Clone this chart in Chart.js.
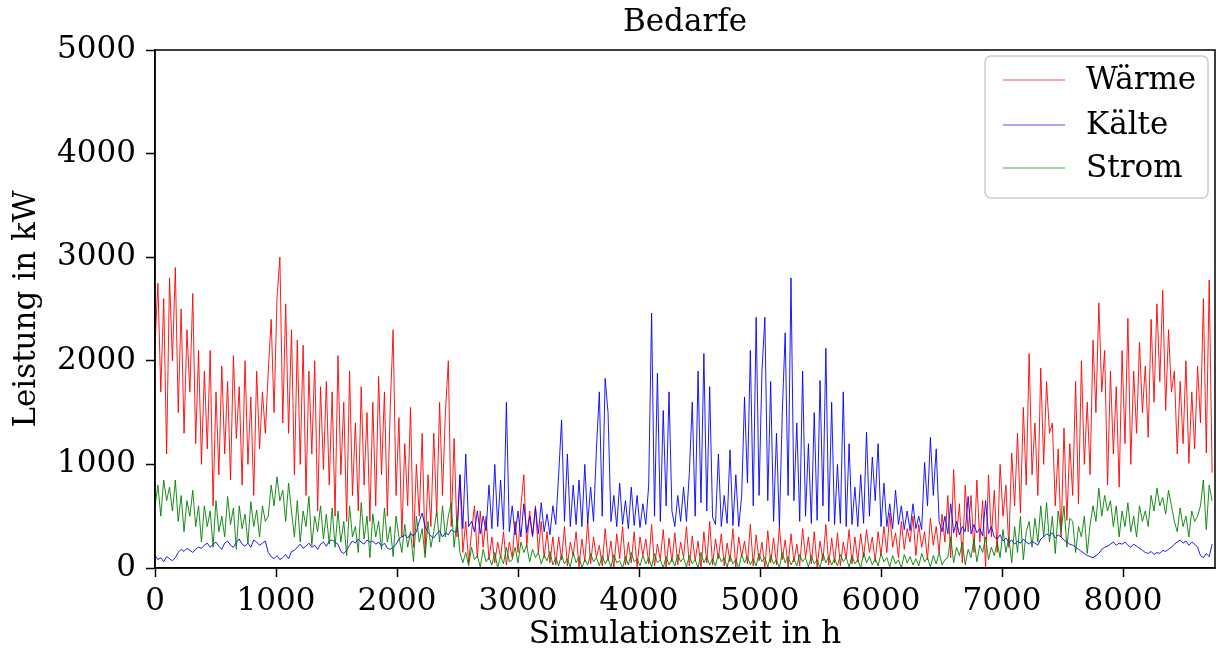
<!DOCTYPE html>
<html>
<head>
<meta charset="utf-8">
<title>Bedarfe</title>
<script src="https://cdn.jsdelivr.net/npm/chart.js@4"></script>
<style>
  html, body { margin: 0; padding: 0; background: #fff; }
  #wrap { width: 1217px; height: 654px; position: relative; }
</style>
</head>
<body>
<div id="wrap"><canvas id="chart"></canvas></div>
<script>
'use strict';

/* ── DATA (one value per day) ── */
const STEP_H = 24;
const X_TICKS = [0, 1000, 2000, 3000, 4000, 5000, 6000, 7000, 8000];
const Y_TICKS = [0, 1000, 2000, 3000, 4000, 5000];
const SERIES_NAMES = ['Wärme', 'Kälte', 'Strom'];
const CHART_TITLE = 'Bedarfe';

const waerme = [
  2150, 2750, 1700, 2600, 1100, 2800, 2000, 2900,
  1500, 2500, 1300, 2300, 1700, 2650, 1200, 2100,
  1000, 1900, 1150, 2100, 600, 1700, 900, 1950, 1100, 1800, 850, 2050, 1250, 1750, 800, 2000, 1000, 1650, 700, 1900, 1150, 1700, 1300,
  1900, 2400, 1500, 2600, 3000, 1400, 2550, 1300, 2300,
  900, 2200, 1000, 2150, 700, 1900, 1100, 2000, 550, 1750, 950, 1800, 800, 1700,
  500, 2050, 900, 1600, 450, 1900, 700, 1400, 550, 1750, 800, 1500, 450,
  1600, 600, 1850, 900, 1700, 500, 1550, 2300, 700,
  1450, 300, 1200, 600, 1550, 200, 1000, 500, 1300, 150, 900, 400,
  1300, 500, 1600, 700, 1500, 2000, 400, 1250, 300, 900,
  150, 450, 50, 350, 600, 100, 550, 200, 500, 80, 300, 50, 250, 100, 350, 30, 250,
  100, 450, 150, 600, 900, 200, 550, 300, 600, 150, 450, 100, 350, 50, 300,
  30, 300, 80, 400, 20, 250, 120, 350, 10, 280,
  60, 450, 40, 300, 100, 220, 20, 380, 70, 260,
  0, 330, 90, 400, 30, 250, 50, 350, 10, 300,
  120, 280, 40, 420, 20, 230, 80, 370, 10, 290,
  60, 340, 30, 250, 100, 400, 20, 310, 70, 260,
  0, 350, 50, 450, 30, 280, 90, 330, 20, 240,
  60, 380, 10, 300, 110, 260, 40, 420, 20, 320,
  70, 250, 0, 360, 50, 290, 30, 400, 80, 270,
  10, 330, 60, 230, 20, 380, 100, 300, 40, 350,
  10, 260, 70, 420, 30, 290, 50, 340, 20, 250,
  90, 370, 40, 300, 60, 330,
  100, 370, 150, 300, 60, 350, 120,
  400, 150, 530, 200, 340, 100, 450, 180, 380, 250, 500, 120, 420, 200, 350, 80, 480, 220, 400, 150, 520, 250,
  700, 100, 950, 300, 620, 50, 800, 350, 700, 150, 850, 250, 650, 0, 900, 300, 750,
  150, 1000, 500, 800, 200, 1110,
  600, 1300, 530, 1550, 800, 2070, 900, 1400, 700,
  1930, 1000, 1800, 1300, 1400, 600, 1150, 300, 1350, 460, 1200,
  700, 1800, 620, 2000, 1000, 1600, 900,
  2200, 1500, 2560, 1700, 2100,
  800, 1900, 1100, 1750, 780, 2100, 1200, 2410, 1000,
  1900, 1300, 2180, 1500, 1950, 1260,
  2400, 1600, 2550, 1800, 2680, 1520, 2300, 1700,
  1900, 1100, 1800, 1200, 2000, 1010, 1700, 1150, 1950,
  1400, 2600, 1110, 2780, 920
];

const kaelte = [
  120, 80, 100, 60, 110, 90, 70, 100,
  150, 180, 160, 190, 170, 150, 180, 200,
  190, 220, 240, 200, 230, 250, 210, 180, 240, 260, 220, 200, 250, 280, 230, 210, 240, 200, 270, 250, 220, 240, 260,
  150, 110, 90, 120, 80, 100, 130, 90, 160,
  170, 200, 230, 190, 210, 240, 200, 220, 180, 230, 250, 210, 260, 270,
  250, 230, 160, 140, 170, 220, 260, 240, 280, 250, 230, 270, 250,
  260, 230, 250, 210, 240, 190, 180, 200, 230,
  280, 300, 320, 290, 330, 310, 350, 450, 530, 400, 340, 310, 290, 330, 360, 300, 340, 320, 370, 350,
  350, 900, 380, 1100, 400,
  450, 350, 550, 330, 500, 360,
  800, 380, 1000, 400, 850, 370, 1600,
  350, 600, 320, 550, 300, 620, 340, 500, 310, 580, 330, 630, 350, 520, 320, 600,
  420, 900, 1430, 450, 1100, 400, 800,
  420, 850, 400, 1000, 430, 780, 450, 1150, 1700, 500, 1830, 1500, 450,
  700, 400, 820, 420, 650, 380, 780, 410, 700, 390, 620, 420, 800,
  2460,
  500, 1880, 450, 1520, 600, 1700,
  550, 400, 700, 450,
  780, 450, 920,
  1600, 500, 1900, 630, 2070, 550, 1750, 490,
  420, 1100, 400, 700, 430, 1140, 410, 900, 400, 690,
  1650, 820, 2100, 600, 2420, 700, 1900, 2420, 650, 1800,
  450, 1300, 400, 1500,
  2270, 700, 2800, 650,
  1400, 450, 1900, 500, 1200, 430, 1500, 460,
  1810, 600, 2120, 450, 1600, 420,
  1000, 430, 1700, 400, 1200, 420, 780, 400, 900, 430,
  1310, 500, 1070, 650, 1200, 400,
  820, 400, 620, 380, 750, 420, 600,
  370, 550, 360, 620, 380, 500, 370,
  1020, 600, 1260, 700, 1150, 450,
  350, 500, 330, 620, 340, 450, 320, 400, 350, 690, 330, 420, 340, 380, 310, 650, 330, 400,
  300, 280, 320, 260, 290, 250, 270, 230, 260, 240, 280, 250, 230, 260, 240, 220,
  280, 300, 330, 310, 340, 290, 320, 300, 270, 250, 230,
  220, 200, 180, 160, 140, 120, 110, 100, 120, 140, 180, 200,
  210, 230, 250, 220, 240, 230, 250, 220, 200, 230, 210, 190,
  170, 150, 140, 160, 130, 150, 140, 170, 160, 180, 200,
  230, 250, 270, 240, 260, 220, 250, 230, 200,
  120, 100, 140, 110, 230
];

const strom = [
  600, 800, 500, 850, 650, 780, 550, 850,
  450, 700, 350, 650, 500, 750, 400, 600,
  250, 600, 400, 550, 200, 650, 350, 500, 300, 690, 420, 580, 180, 600, 380, 520, 240, 640, 400, 560, 300, 600, 450,
  500, 800, 600, 880, 650, 750, 450, 820, 550,
  300, 650, 250, 550, 400, 690, 220, 500, 350, 600, 280, 520, 230, 580,
  200, 550, 250, 450, 120, 600, 300, 400, 150, 630, 280, 500, 100, 520, 300, 450, 180, 580, 250, 400, 110, 500,
  300, 150, 420, 200, 350, 60, 500, 250, 380, 100, 450, 200,
  350, 550, 250, 600, 300, 500, 630, 200, 480, 150,
  50, 150, 20, 200, 80, 120, 10, 180, 60, 100, 30, 150, 0, 120, 40, 200, 60,
  80, 200, 50, 250, 150, 220, 60, 180, 100, 150, 40, 120, 70, 160, 30,
  100, 20, 130, 40, 90, 10, 150, 50, 110, 0,
  80, 30, 140, 60, 100, 20, 120, 40, 90, 10,
  130, 50, 70, 0, 110, 30, 150, 60, 90, 20,
  120, 40, 100, 10, 140, 50, 80, 0, 110, 30,
  90, 20, 130, 60, 100, 10, 120, 40, 80, 0,
  150, 50, 110, 30, 90, 20, 140, 60, 100, 10,
  120, 40, 80, 0, 130, 50, 110, 30, 90, 20,
  140, 60, 100, 10, 120, 40, 80, 0, 150, 50,
  110, 30, 90, 20, 130, 60, 100, 10, 120, 40,
  80, 0, 140, 50, 110, 30, 90, 20, 130, 60,
  100, 10, 120, 40, 80, 0, 150, 50, 110, 30,
  90, 20, 140, 60, 100, 10, 120, 40, 80, 0,
  130, 50, 110, 30, 90, 20, 140, 60, 100, 10,
  120, 40, 150, 30, 80,
  100, 300, 50, 200, 120, 250, 30, 180, 100, 280, 60, 220, 150, 300, 80, 200, 120,
  250, 100, 370, 150, 300, 50,
  400, 150, 500, 80, 350, 450, 200, 480, 250,
  600, 300, 630, 250, 500, 140, 550, 350, 600, 200, 480,
  450, 150, 400, 300, 500, 140, 420,
  600, 450, 770, 500, 700, 550, 650, 400, 600,
  300, 550, 400, 630, 350, 500, 300, 600, 450, 550, 400,
  700, 550, 770, 600, 680, 520, 750, 600,
  450, 350, 580, 400, 500, 300, 550, 450, 500,
  600, 850, 370, 800, 650
];

/* ── STYLE ── */
const FONT = "'DejaVu Serif', 'Liberation Serif', serif";
const FONT_SIZE = 31;
const COLORS = ['#ff0000', '#0000ff', '#008000'];
const LINE_W = 0.9;

function toPoints(values) {
  return values.map((v, i) => ({ x: i * STEP_H, y: v }));
}

/* frame round the plot (four spines) and title centred over the plot area */
const framePlugin = {
  id: 'frame',
  afterDraw(chart) {
    const { ctx, chartArea: a } = chart;
    ctx.save();
    ctx.strokeStyle = '#000';
    ctx.lineWidth = 1.5;
    ctx.strokeRect(a.left, a.top, a.right - a.left, a.bottom - a.top);

    ctx.font = FONT_SIZE + 'px ' + FONT;
    ctx.fillStyle = '#000';
    ctx.textAlign = 'center';
    ctx.textBaseline = 'middle';
    ctx.fillText(CHART_TITLE, (a.left + a.right) / 2, 23);
    ctx.restore();
  }
};

/* boxed legend in the upper right corner */
const legendPlugin = {
  id: 'boxLegend',
  afterDraw(chart) {
    const ctx = chart.ctx;
    const x0 = 985, y0 = 56, w = 223, h = 142, r = 6;
    ctx.save();
    ctx.beginPath();
    ctx.roundRect(x0, y0, w, h, r);
    ctx.fillStyle = 'rgba(255,255,255,0.8)';
    ctx.fill();
    ctx.strokeStyle = '#cccccc';
    ctx.lineWidth = 1.5;
    ctx.stroke();

    const rows = [80, 125, 168];
    ctx.font = FONT_SIZE + 'px ' + FONT;
    ctx.textBaseline = 'middle';
    chart.data.datasets.forEach((ds, i) => {
      ctx.beginPath();
      ctx.moveTo(1003, rows[i]);
      ctx.lineTo(1065, rows[i]);
      ctx.strokeStyle = ds.borderColor;
      ctx.lineWidth = 0.7;
      ctx.stroke();
      ctx.fillStyle = '#000';
      ctx.fillText(ds.label, 1086, rows[i] + 1);
    });
    ctx.restore();
  }
};

const axisFont = { family: FONT, size: FONT_SIZE };
const plain = v => String(v);

new Chart(document.getElementById('chart'), {
  type: 'line',
  data: {
    datasets: [waerme, kaelte, strom].map((vals, i) => ({
      label: SERIES_NAMES[i],
      data: toPoints(vals),
      borderColor: COLORS[i],
      borderWidth: LINE_W,
      pointRadius: 0,
      tension: 0,
      fill: false,
      order: 3 - i
    }))
  },
  options: {
    responsive: true,
    maintainAspectRatio: false,
    animation: false,
    devicePixelRatio: 1,
    layout: { padding: { left: 0, right: 2, top: 50, bottom: 0 } },
    plugins: {
      legend: { display: false },
      tooltip: { enabled: false },
      title: { display: false }
    },
    scales: {
      x: {
        type: 'linear',
        min: 0,
        max: 8760,
        afterBuildTicks: s => { s.ticks = X_TICKS.map(v => ({ value: v })); },
        afterFit: s => { s.height = 86; },
        ticks: { color: '#000', font: axisFont, padding: 6, maxRotation: 0, autoSkip: false, callback: plain },
        grid: { drawOnChartArea: false, drawTicks: true, tickLength: 9, tickColor: '#000', tickWidth: 1.5 },
        border: { color: '#000', width: 1.5 },
        title: { display: true, text: 'Simulationszeit in h', color: '#000', font: axisFont, padding: { top: 0, bottom: 0 } }
      },
      y: {
        min: 0,
        max: 5000,
        afterBuildTicks: s => { s.ticks = Y_TICKS.map(v => ({ value: v })); },
        afterFit: s => { s.width = 155; },
        ticks: { color: '#000', font: axisFont, padding: 10, callback: plain },
        grid: { drawOnChartArea: false, drawTicks: true, tickLength: 9, tickColor: '#000', tickWidth: 1.5 },
        border: { color: '#000', width: 1.5 },
        title: { display: true, text: 'Leistung in kW', color: '#000', font: axisFont, padding: { top: 8, bottom: 0 } }
      }
    }
  },
  plugins: [framePlugin, legendPlugin]
});
</script>
</body>
</html>
